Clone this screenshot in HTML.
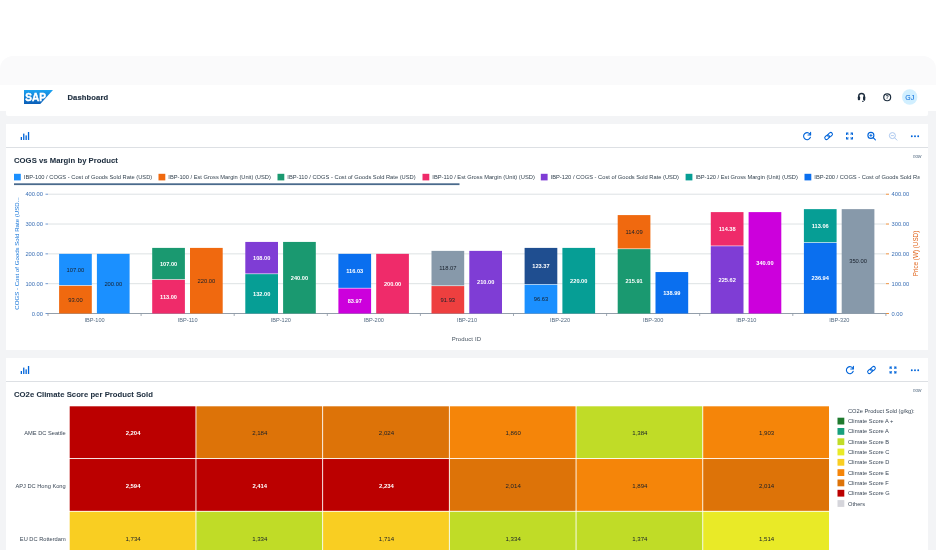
<!DOCTYPE html>
<html lang="en">
<head>
<meta charset="utf-8">
<title>Dashboard</title>
<style>
*{box-sizing:border-box;margin:0;padding:0}
html,body{width:936px;height:550px;overflow:hidden;background:#fff;font-family:"Liberation Sans",sans-serif;color:#1d2d3e}
.frame{position:absolute;left:0;top:55.8px;width:936px;height:520px;background:#fafafb;border-radius:13px 13px 0 0;overflow:hidden}
.page{position:absolute;left:0;top:55.4px;width:936px;height:460px;background:#f3f4f6}
.shellbg{position:absolute;left:0;top:29.5px;width:936px;height:26px;background:#fff}
.shell{position:absolute;left:6px;top:29.5px;width:921.5px;height:30.7px;background:#fff;border-radius:2px}
.shell .title{-webkit-text-stroke:.15px #1d2d3e;position:absolute;left:61.5px;top:7.7px;font-size:7.6px;font-weight:bold;letter-spacing:.12px;color:#1d2d3e;line-height:10px}
.logo{position:absolute;left:18px;top:4.7px;width:29px;height:14.3px}
.card{position:absolute;left:6px;width:921.5px;background:#fff}
.tb{height:24.3px;border-bottom:1.3px solid #dde0e4;position:relative}
.h2{position:absolute;left:8px;font-weight:bold;color:#1d2d3e;white-space:nowrap}
.now{position:absolute;font-size:4.6px;font-style:italic;color:#556b82}
svg.ov{position:absolute;left:0;top:0;width:936px;height:550px;overflow:visible}
svg text{font-family:"Liberation Sans",sans-serif}
.ax{font-size:5.75px;fill:#3a6fb5}
.ttl{stroke:#1d2d3e;stroke-width:.06px;letter-spacing:.04px}
.bl{font-size:5.8px}
.bl.w{font-size:5.65px;font-weight:bold}
.cat{font-size:5.6px;fill:#556b82}
.ayl{font-size:6.1px;fill:#1b78d9}
.ayr{font-size:6.3px;fill:#e0641a}
.lg{font-size:5.72px;fill:#33424f}
.hl{font-size:5.7px;fill:#3a4756}
.hv{font-size:6.1px}
</style>
</head>
<body>
<div id="app" style="position:absolute;left:0;top:0;width:936px;height:550px">
<div class="frame">
  <div class="page"></div>
  <div class="shellbg"></div>
  <header class="shell">
    <svg class="logo" viewBox="0 0 29 14.3"><defs><linearGradient id="sg" x1="0" y1="0" x2="0" y2="1"><stop offset="0" stop-color="#1ba3f2"/><stop offset="1" stop-color="#0a5cb6"/></linearGradient></defs><polygon points="0,0 29,0 16,14.3 0,14.3" fill="url(#sg)"/><text x="1.3" y="11.4" font-size="11.6" font-weight="bold" fill="#fff" stroke="#fff" stroke-width=".45" textLength="20.6" lengthAdjust="spacingAndGlyphs">SAP</text></svg>
    <div class="title">Dashboard</div>
  </header>
</div>

<section class="card" style="top:124px;height:226.2px">
  <div class="tb"></div>
</section>
<section class="card" style="top:358.1px;height:200px">
  <div class="tb"></div>
</section>

<svg class="ov" viewBox="0 0 936 550">
<!-- header icons -->
<g id="hdr">
  <path d="M858.7 97.6v-1.3a2.85 2.85 0 0 1 5.7 0v1.3" fill="none" stroke="#1d2d3e" stroke-width="1.35"/>
  <rect x="857.8" y="96.3" width="2.3" height="3.9" rx=".9" fill="#1d2d3e"/>
  <rect x="863" y="96.3" width="2.3" height="3.9" rx=".9" fill="#1d2d3e"/>
  <path d="M864.6 99.8c0 1.2-.9 1.6-2.6 1.6" fill="none" stroke="#1d2d3e" stroke-width=".9"/>
  <circle cx="887.2" cy="97.3" r="3.45" fill="none" stroke="#1d2d3e" stroke-width="1.2"/>
  <text x="887.2" y="99.25" text-anchor="middle" font-size="5.4" font-weight="bold" fill="#1d2d3e">?</text>
  <circle cx="909.7" cy="97" r="7.7" fill="#d1efff"/>
  <text x="909.7" y="99.5" text-anchor="middle" font-size="7" fill="#0064d9">GJ</text>
</g>
<!-- toolbar icons -->
<g transform="translate(20.7,132)" fill="#0064d9"><rect x="0" y="5" width="1.3" height="3"/><rect x="2.4" y="1.6" width="1.3" height="6.4"/><rect x="4.8" y="3.4" width="1.3" height="4.6"/><rect x="7.2" y="0" width="1.3" height="8"/></g>
<g transform="translate(807,136)" fill="none" stroke="#0064d9" stroke-width="1.1" stroke-linecap="round"><path d="M3.3 -1.2A3.5 3.5 0 1 0 3.4 1.3"/><path d="M3.6 -3.6v2.6h-2.6" stroke-linejoin="round"/></g>
<g transform="translate(828.6,136)" fill="none" stroke="#0064d9" stroke-width="1"><g transform="rotate(-40)"><rect x="-4.5" y="-1.7" width="5.2" height="3.4" rx="1.7"/><rect x="-.7" y="-1.7" width="5.2" height="3.4" rx="1.7"/></g></g>
<g transform="translate(849.5,136)" fill="none" stroke="#0064d9" stroke-width="1.1"><path d="M-2.9 -1.1v-1.8h1.8M1.1 -2.9h1.8v1.8M2.9 1.1v1.8h-1.8M-1.1 2.9h-1.8v-1.8"/><path d="M-2.7 -2.7l1.5 1.5M2.7 -2.7l-1.5 1.5M2.7 2.7l-1.5 -1.5M-2.7 2.7l1.5 -1.5" stroke-width=".9"/></g>
<g transform="translate(871.7,136.2)" fill="none" stroke-width="1.1" stroke="#0064d9"><circle cx="-.8" cy="-.8" r="3"/><path d="M1.5 1.5l2.2 2.2" stroke-linecap="round"/><path d="M-2.3 -.8h3M-.8 -2.3v3" stroke-width=".9"/></g>
<g transform="translate(893.2,136.4)" fill="none" stroke-width="1" stroke="#a9c6ee"><circle cx="-.8" cy="-.8" r="3"/><path d="M1.5 1.5l2.2 2.2" stroke-linecap="round"/><path d="M-2.3 -.8h3" stroke-width=".9"/></g>
<g transform="translate(915,136.3)" fill="#0064d9"><circle cx="-3.2" cy="0" r=".95"/><circle cx="0" cy="0" r=".95"/><circle cx="3.2" cy="0" r=".95"/></g>

<g transform="translate(20.7,366)" fill="#0064d9"><rect x="0" y="5" width="1.3" height="3"/><rect x="2.4" y="1.6" width="1.3" height="6.4"/><rect x="4.8" y="3.4" width="1.3" height="4.6"/><rect x="7.2" y="0" width="1.3" height="8"/></g>
<g transform="translate(849.8,370)" fill="none" stroke="#0064d9" stroke-width="1.1" stroke-linecap="round"><path d="M3.3 -1.2A3.5 3.5 0 1 0 3.4 1.3"/><path d="M3.6 -3.6v2.6h-2.6" stroke-linejoin="round"/></g>
<g transform="translate(871.5,370)" fill="none" stroke="#0064d9" stroke-width="1"><g transform="rotate(-40)"><rect x="-4.5" y="-1.7" width="5.2" height="3.4" rx="1.7"/><rect x="-.7" y="-1.7" width="5.2" height="3.4" rx="1.7"/></g></g>
<g transform="translate(893,370)" fill="none" stroke="#0064d9" stroke-width="1.1"><path d="M-2.9 -1.1v-1.8h1.8M1.1 -2.9h1.8v1.8M2.9 1.1v1.8h-1.8M-1.1 2.9h-1.8v-1.8"/><path d="M-2.7 -2.7l1.5 1.5M2.7 -2.7l-1.5 1.5M2.7 2.7l-1.5 -1.5M-2.7 2.7l1.5 -1.5" stroke-width=".9"/></g>
<g transform="translate(915,370.3)" fill="#0064d9"><circle cx="-3.2" cy="0" r=".95"/><circle cx="0" cy="0" r=".95"/><circle cx="3.2" cy="0" r=".95"/></g>

<text x="14" y="162.8" font-size="7.7" font-weight="bold" fill="#1d2d3e" class="ttl">COGS vs Margin by Product</text>
<text x="14" y="396.8" font-size="7.7" font-weight="bold" fill="#1d2d3e" class="ttl">CO2e Climate Score per Product Sold</text>
<text x="913" y="157.9" font-size="4.6" font-style="italic" fill="#556b82">now</text>
<text x="913" y="392" font-size="4.6" font-style="italic" fill="#556b82">now</text>
<line x1="48.0" x2="886" y1="313.5" y2="313.5" stroke="#d5dadd" stroke-width="0.8"/>
<line x1="45.5" x2="48.0" y1="313.5" y2="313.5" stroke="#4d7fc4" stroke-width="0.8"/>
<line x1="886" x2="889" y1="313.5" y2="313.5" stroke="#e9730c" stroke-width="0.8"/>
<text x="43" y="315.5" text-anchor="end" class="ax">0.00</text>
<text x="891.5" y="315.5" class="ax">0.00</text>
<line x1="48.0" x2="886" y1="283.68" y2="283.68" stroke="#d5dadd" stroke-width="0.8"/>
<line x1="45.5" x2="48.0" y1="283.68" y2="283.68" stroke="#4d7fc4" stroke-width="0.8"/>
<line x1="886" x2="889" y1="283.68" y2="283.68" stroke="#e9730c" stroke-width="0.8"/>
<text x="43" y="285.68" text-anchor="end" class="ax">100.00</text>
<text x="891.5" y="285.68" class="ax">100.00</text>
<line x1="48.0" x2="886" y1="253.86" y2="253.86" stroke="#d5dadd" stroke-width="0.8"/>
<line x1="45.5" x2="48.0" y1="253.86" y2="253.86" stroke="#4d7fc4" stroke-width="0.8"/>
<line x1="886" x2="889" y1="253.86" y2="253.86" stroke="#e9730c" stroke-width="0.8"/>
<text x="43" y="255.86" text-anchor="end" class="ax">200.00</text>
<text x="891.5" y="255.86" class="ax">200.00</text>
<line x1="48.0" x2="886" y1="224.04" y2="224.04" stroke="#d5dadd" stroke-width="0.8"/>
<line x1="45.5" x2="48.0" y1="224.04" y2="224.04" stroke="#4d7fc4" stroke-width="0.8"/>
<line x1="886" x2="889" y1="224.04" y2="224.04" stroke="#e9730c" stroke-width="0.8"/>
<text x="43" y="226.04" text-anchor="end" class="ax">300.00</text>
<text x="891.5" y="226.04" class="ax">300.00</text>
<line x1="48.0" x2="886" y1="194.22" y2="194.22" stroke="#d5dadd" stroke-width="0.8"/>
<line x1="45.5" x2="48.0" y1="194.22" y2="194.22" stroke="#4d7fc4" stroke-width="0.8"/>
<line x1="886" x2="889" y1="194.22" y2="194.22" stroke="#e9730c" stroke-width="0.8"/>
<text x="43" y="196.22" text-anchor="end" class="ax">400.00</text>
<text x="891.5" y="196.22" class="ax">400.00</text>
<line x1="48.0" x2="886" y1="313.5" y2="313.5" stroke="#8a96a3" stroke-width="0.9"/>
<line x1="48" x2="48" y1="313.5" y2="316" stroke="#8a96a3" stroke-width="0.8"/>
<line x1="141.1" x2="141.1" y1="313.5" y2="316" stroke="#8a96a3" stroke-width="0.8"/>
<line x1="234.2" x2="234.2" y1="313.5" y2="316" stroke="#8a96a3" stroke-width="0.8"/>
<line x1="327.3" x2="327.3" y1="313.5" y2="316" stroke="#8a96a3" stroke-width="0.8"/>
<line x1="420.4" x2="420.4" y1="313.5" y2="316" stroke="#8a96a3" stroke-width="0.8"/>
<line x1="513.5" x2="513.5" y1="313.5" y2="316" stroke="#8a96a3" stroke-width="0.8"/>
<line x1="606.6" x2="606.6" y1="313.5" y2="316" stroke="#8a96a3" stroke-width="0.8"/>
<line x1="699.7" x2="699.7" y1="313.5" y2="316" stroke="#8a96a3" stroke-width="0.8"/>
<line x1="792.8" x2="792.8" y1="313.5" y2="316" stroke="#8a96a3" stroke-width="0.8"/>
<line x1="885.9" x2="885.9" y1="313.5" y2="316" stroke="#8a96a3" stroke-width="0.8"/>
<rect x="59.1" y="285.77" width="32.7" height="27.73" fill="#f0690f"/>
<rect x="59.1" y="253.86" width="32.7" height="31.31" fill="#1b90ff"/>
<rect x="96.9" y="253.86" width="32.7" height="59.64" fill="#1b90ff"/>
<text x="75.45" y="301.63" text-anchor="middle" class="bl" fill="#18202b">93.00</text>
<text x="75.45" y="271.81" text-anchor="middle" class="bl" fill="#18202b">107.00</text>
<text x="113.25" y="285.68" text-anchor="middle" class="bl" fill="#18202b">200.00</text>
<text x="94.55" y="322.3" text-anchor="middle" class="cat">IBP-100</text>
<rect x="152.2" y="279.8" width="32.7" height="33.7" fill="#ef2b6a"/>
<rect x="152.2" y="247.9" width="32.7" height="31.31" fill="#1a9970"/>
<rect x="190" y="247.9" width="32.7" height="65.6" fill="#f0690f"/>
<text x="168.55" y="298.65" text-anchor="middle" class="bl w" fill="#ffffff">113.00</text>
<text x="168.55" y="265.85" text-anchor="middle" class="bl w" fill="#ffffff">107.00</text>
<text x="206.35" y="282.7" text-anchor="middle" class="bl" fill="#18202b">220.00</text>
<text x="187.65" y="322.3" text-anchor="middle" class="cat">IBP-110</text>
<rect x="245.3" y="274.14" width="32.7" height="39.36" fill="#069e95"/>
<rect x="245.3" y="241.93" width="32.7" height="31.61" fill="#7f3dd5"/>
<rect x="283.1" y="241.93" width="32.7" height="71.57" fill="#1a9970"/>
<text x="261.65" y="295.82" text-anchor="middle" class="bl w" fill="#ffffff">132.00</text>
<text x="261.65" y="260.03" text-anchor="middle" class="bl w" fill="#ffffff">108.00</text>
<text x="299.45" y="279.72" text-anchor="middle" class="bl w" fill="#ffffff">240.00</text>
<text x="280.75" y="322.3" text-anchor="middle" class="cat">IBP-120</text>
<rect x="338.4" y="288.46" width="32.7" height="25.04" fill="#cc00dc"/>
<rect x="338.4" y="253.86" width="32.7" height="34" fill="#0a6fef"/>
<rect x="376.2" y="253.86" width="32.7" height="59.64" fill="#ef2b6a"/>
<text x="354.75" y="302.98" text-anchor="middle" class="bl w" fill="#ffffff">83.97</text>
<text x="354.75" y="273.16" text-anchor="middle" class="bl w" fill="#ffffff">116.03</text>
<text x="392.55" y="285.68" text-anchor="middle" class="bl w" fill="#ffffff">200.00</text>
<text x="373.85" y="322.3" text-anchor="middle" class="cat">IBP-200</text>
<rect x="431.5" y="286.09" width="32.7" height="27.41" fill="#ee3f3f"/>
<rect x="431.5" y="250.88" width="32.7" height="34.61" fill="#8799aa"/>
<rect x="469.3" y="250.88" width="32.7" height="62.62" fill="#7f3dd5"/>
<text x="447.85" y="301.79" text-anchor="middle" class="bl" fill="#18202b">91.93</text>
<text x="447.85" y="270.48" text-anchor="middle" class="bl" fill="#18202b">118.07</text>
<text x="485.65" y="284.19" text-anchor="middle" class="bl w" fill="#ffffff">210.00</text>
<text x="466.95" y="322.3" text-anchor="middle" class="cat">IBP-210</text>
<rect x="524.6" y="284.68" width="32.7" height="28.82" fill="#1b90ff"/>
<rect x="524.6" y="247.9" width="32.7" height="36.19" fill="#1f4e90"/>
<rect x="562.4" y="247.9" width="32.7" height="65.6" fill="#069e95"/>
<text x="540.95" y="301.09" text-anchor="middle" class="bl" fill="#18202b">96.63</text>
<text x="540.95" y="268.29" text-anchor="middle" class="bl w" fill="#ffffff">123.37</text>
<text x="578.75" y="282.7" text-anchor="middle" class="bl w" fill="#ffffff">220.00</text>
<text x="560.05" y="322.3" text-anchor="middle" class="cat">IBP-220</text>
<rect x="617.7" y="249.12" width="32.7" height="64.38" fill="#1a9970"/>
<rect x="617.7" y="215.09" width="32.7" height="33.42" fill="#f0690f"/>
<rect x="655.5" y="272.05" width="32.7" height="41.45" fill="#0a6fef"/>
<text x="634.05" y="283.31" text-anchor="middle" class="bl w" fill="#ffffff">215.91</text>
<text x="634.05" y="234.1" text-anchor="middle" class="bl" fill="#18202b">114.09</text>
<text x="671.85" y="294.78" text-anchor="middle" class="bl w" fill="#ffffff">138.99</text>
<text x="653.15" y="322.3" text-anchor="middle" class="cat">IBP-300</text>
<rect x="710.8" y="246.22" width="32.7" height="67.28" fill="#7f3dd5"/>
<rect x="710.8" y="212.11" width="32.7" height="33.51" fill="#ef2b6a"/>
<rect x="748.6" y="212.11" width="32.7" height="101.39" fill="#cc00dc"/>
<text x="727.15" y="281.86" text-anchor="middle" class="bl w" fill="#ffffff">225.62</text>
<text x="727.15" y="231.17" text-anchor="middle" class="bl w" fill="#ffffff">114.38</text>
<text x="764.95" y="264.81" text-anchor="middle" class="bl w" fill="#ffffff">340.00</text>
<text x="746.25" y="322.3" text-anchor="middle" class="cat">IBP-310</text>
<rect x="803.9" y="242.84" width="32.7" height="70.66" fill="#0a6fef"/>
<rect x="803.9" y="209.13" width="32.7" height="33.11" fill="#069e95"/>
<rect x="841.7" y="209.13" width="32.7" height="104.37" fill="#8799aa"/>
<text x="820.25" y="280.17" text-anchor="middle" class="bl w" fill="#ffffff">236.94</text>
<text x="820.25" y="227.99" text-anchor="middle" class="bl w" fill="#ffffff">113.06</text>
<text x="858.05" y="263.31" text-anchor="middle" class="bl" fill="#18202b">350.00</text>
<text x="839.35" y="322.3" text-anchor="middle" class="cat">IBP-320</text>
<text x="466.4" y="341" text-anchor="middle" class="cat" style="font-size:6px;letter-spacing:.12px;fill:#45525f">Product ID</text>
<text transform="translate(19.3,253.5) rotate(-90)" text-anchor="middle" class="ayl">COGS - Cost of Goods Sold Rate (USD...</text>
<text transform="translate(918.3,253.5) rotate(-90)" text-anchor="middle" class="ayr">Price (W) (USD)</text>
<clipPath id="lc"><rect x="10" y="168" width="909.5" height="16"/></clipPath><g clip-path="url(#lc)">
<rect x="14" y="173.8" width="6.8" height="6.6" fill="#1b90ff"/>
<text x="23.8" y="179.2" class="lg" textLength="128.4" lengthAdjust="spacingAndGlyphs">IBP-100 / COGS - Cost of Goods Sold Rate (USD)</text>
<rect x="158.5" y="173.8" width="6.8" height="6.6" fill="#f0690f"/>
<text x="168.3" y="179.2" class="lg" textLength="102.5" lengthAdjust="spacingAndGlyphs">IBP-100 / Est Gross Margin (Unit) (USD)</text>
<rect x="277.5" y="173.8" width="6.8" height="6.6" fill="#1a9970"/>
<text x="287.3" y="179.2" class="lg" textLength="128.4" lengthAdjust="spacingAndGlyphs">IBP-110 / COGS - Cost of Goods Sold Rate (USD)</text>
<rect x="422.5" y="173.8" width="6.8" height="6.6" fill="#ef2b6a"/>
<text x="432.3" y="179.2" class="lg" textLength="102.5" lengthAdjust="spacingAndGlyphs">IBP-110 / Est Gross Margin (Unit) (USD)</text>
<rect x="540.8" y="173.8" width="6.8" height="6.6" fill="#7f3dd5"/>
<text x="550.5999999999999" y="179.2" class="lg" textLength="128.4" lengthAdjust="spacingAndGlyphs">IBP-120 / COGS - Cost of Goods Sold Rate (USD)</text>
<rect x="685.6" y="173.8" width="6.8" height="6.6" fill="#069e95"/>
<text x="695.4" y="179.2" class="lg" textLength="102.5" lengthAdjust="spacingAndGlyphs">IBP-120 / Est Gross Margin (Unit) (USD)</text>
<rect x="804.5" y="173.8" width="6.8" height="6.6" fill="#0a6fef"/>
<text x="814.3" y="179.2" class="lg" textLength="128.4" lengthAdjust="spacingAndGlyphs">IBP-200 / COGS - Cost of Goods Sold Rate (USD)</text>
</g>
<rect x="14" y="183.3" width="445.5" height="1.8" fill="#4a6a8c"/>
<text x="65.7" y="435.06" text-anchor="end" class="hl">AME DC Seattle</text>
<rect x="69.7" y="406.3" width="125.8" height="51.82" fill="#bb0000"/>
<text x="133.05" y="435.16" text-anchor="middle" class="hv" fill="#ffffff" font-weight="bold" style="font-size:5.9px">2,204</text>
<rect x="196.4" y="406.3" width="125.8" height="51.82" fill="#dd7308"/>
<text x="259.75" y="435.16" text-anchor="middle" class="hv" fill="#18202b">2,184</text>
<rect x="323.1" y="406.3" width="125.8" height="51.82" fill="#dd7308"/>
<text x="386.45" y="435.16" text-anchor="middle" class="hv" fill="#18202b">2,024</text>
<rect x="449.8" y="406.3" width="125.8" height="51.82" fill="#f58509"/>
<text x="513.15" y="435.16" text-anchor="middle" class="hv" fill="#18202b">1,860</text>
<rect x="576.5" y="406.3" width="125.8" height="51.82" fill="#c0dc27"/>
<text x="639.85" y="435.16" text-anchor="middle" class="hv" fill="#18202b">1,384</text>
<rect x="703.2" y="406.3" width="125.8" height="51.82" fill="#f58509"/>
<text x="766.55" y="435.16" text-anchor="middle" class="hv" fill="#18202b">1,903</text>
<text x="65.7" y="487.78" text-anchor="end" class="hl">APJ DC Hong Kong</text>
<rect x="69.7" y="459.02" width="125.8" height="51.82" fill="#bb0000"/>
<text x="133.05" y="487.88" text-anchor="middle" class="hv" fill="#ffffff" font-weight="bold" style="font-size:5.9px">2,594</text>
<rect x="196.4" y="459.02" width="125.8" height="51.82" fill="#bb0000"/>
<text x="259.75" y="487.88" text-anchor="middle" class="hv" fill="#ffffff" font-weight="bold" style="font-size:5.9px">2,414</text>
<rect x="323.1" y="459.02" width="125.8" height="51.82" fill="#bb0000"/>
<text x="386.45" y="487.88" text-anchor="middle" class="hv" fill="#ffffff" font-weight="bold" style="font-size:5.9px">2,234</text>
<rect x="449.8" y="459.02" width="125.8" height="51.82" fill="#dd7308"/>
<text x="513.15" y="487.88" text-anchor="middle" class="hv" fill="#18202b">2,014</text>
<rect x="576.5" y="459.02" width="125.8" height="51.82" fill="#f58509"/>
<text x="639.85" y="487.88" text-anchor="middle" class="hv" fill="#18202b">1,894</text>
<rect x="703.2" y="459.02" width="125.8" height="51.82" fill="#dd7308"/>
<text x="766.55" y="487.88" text-anchor="middle" class="hv" fill="#18202b">2,014</text>
<text x="65.7" y="540.5" text-anchor="end" class="hl">EU DC Rotterdam</text>
<rect x="69.7" y="511.74" width="125.8" height="51.82" fill="#f9ce22"/>
<text x="133.05" y="540.6" text-anchor="middle" class="hv" fill="#18202b">1,734</text>
<rect x="196.4" y="511.74" width="125.8" height="51.82" fill="#c0dc27"/>
<text x="259.75" y="540.6" text-anchor="middle" class="hv" fill="#18202b">1,334</text>
<rect x="323.1" y="511.74" width="125.8" height="51.82" fill="#f9ce22"/>
<text x="386.45" y="540.6" text-anchor="middle" class="hv" fill="#18202b">1,714</text>
<rect x="449.8" y="511.74" width="125.8" height="51.82" fill="#c0dc27"/>
<text x="513.15" y="540.6" text-anchor="middle" class="hv" fill="#18202b">1,334</text>
<rect x="576.5" y="511.74" width="125.8" height="51.82" fill="#c0dc27"/>
<text x="639.85" y="540.6" text-anchor="middle" class="hv" fill="#18202b">1,374</text>
<rect x="703.2" y="511.74" width="125.8" height="51.82" fill="#e9ea27"/>
<text x="766.55" y="540.6" text-anchor="middle" class="hv" fill="#18202b">1,514</text>
<text x="848" y="413" class="hl">CO2e Product Sold (g/kg):</text>
<rect x="837.5" y="417.7" width="6.8" height="6.8" fill="#1f7a2e"/>
<text x="848" y="423.1" class="hl">Climate Score A +</text>
<rect x="837.5" y="428" width="6.8" height="6.8" fill="#17a07d"/>
<text x="848" y="433.4" class="hl">Climate Score A</text>
<rect x="837.5" y="438.3" width="6.8" height="6.8" fill="#c0dc27"/>
<text x="848" y="443.7" class="hl">Climate Score B</text>
<rect x="837.5" y="448.6" width="6.8" height="6.8" fill="#e9ea27"/>
<text x="848" y="454" class="hl">Climate Score C</text>
<rect x="837.5" y="458.9" width="6.8" height="6.8" fill="#f9ce22"/>
<text x="848" y="464.3" class="hl">Climate Score D</text>
<rect x="837.5" y="469.2" width="6.8" height="6.8" fill="#f58509"/>
<text x="848" y="474.6" class="hl">Climate Score E</text>
<rect x="837.5" y="479.5" width="6.8" height="6.8" fill="#dd7308"/>
<text x="848" y="484.9" class="hl">Climate Score F</text>
<rect x="837.5" y="489.8" width="6.8" height="6.8" fill="#bb0000"/>
<text x="848" y="495.2" class="hl">Climate Score G</text>
<rect x="837.5" y="500.1" width="6.8" height="6.8" fill="#d5d5db"/>
<text x="848" y="505.5" class="hl">Others</text>
</svg>
</div>
</body>
</html>
